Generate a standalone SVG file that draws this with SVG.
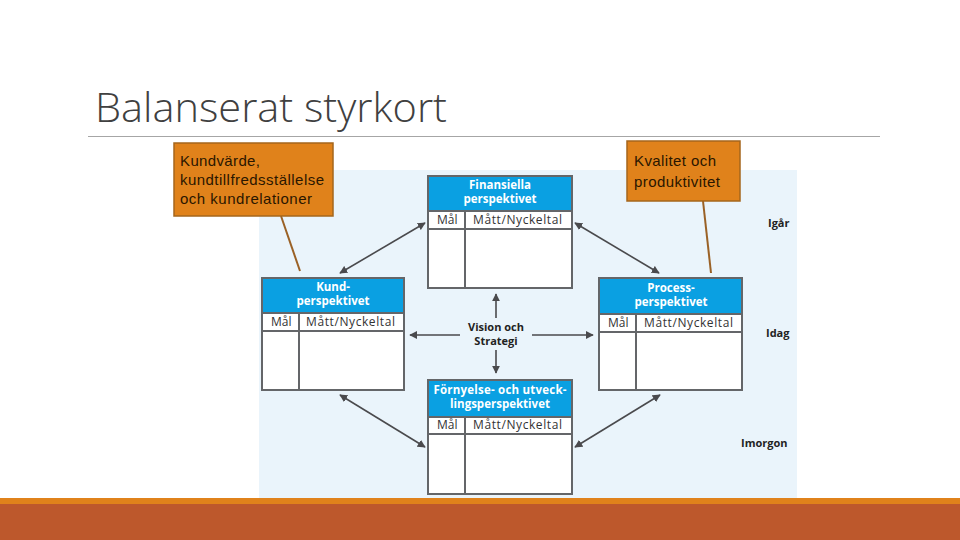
<svg xmlns="http://www.w3.org/2000/svg" width="960" height="540" viewBox="0 0 960 540">
<style>
.hdr{fill:#0aa0e2}
.box{fill:#fff;stroke:#646669;stroke-width:2}
.ln{stroke:#646669;stroke-width:2;fill:none}
.ht{font-family:"Open Sans","Liberation Sans",sans-serif;font-weight:bold;font-size:11.5px;fill:#fff;text-anchor:middle}
.rt{font-family:"Open Sans","Liberation Sans",sans-serif;font-size:12px;fill:#333}
.lb{font-family:"Open Sans","Liberation Sans",sans-serif;font-weight:bold;font-size:11px;fill:#222}
.arr{stroke:#4a4a4d;stroke-width:1.6;fill:none;marker-end:url(#ah)}
.darr{stroke:#4a4a4d;stroke-width:1.6;fill:none;marker-end:url(#ah);marker-start:url(#ahs)}
.call{fill:#e0821b;stroke:#a5661c;stroke-width:1.5}
.ct{font-family:"Liberation Sans",Arial,sans-serif;font-size:15px;fill:#2a1600}
.cl{stroke:#9a6126;stroke-width:2}
</style>
<defs>
<marker id="ah" viewBox="0 0 10 10" refX="9" refY="5" markerWidth="8" markerHeight="8" markerUnits="userSpaceOnUse" orient="auto"><path d="M0,0 L10,5 L0,10 z" fill="#4a4a4d"/></marker>
<marker id="ahs" viewBox="0 0 10 10" refX="1" refY="5" markerWidth="8" markerHeight="8" markerUnits="userSpaceOnUse" orient="auto"><path d="M10,0 L0,5 L10,10 z" fill="#4a4a4d"/></marker>
</defs>
<rect width="960" height="540" fill="#fff"/>
<g id="title">
<text x="95" y="122" font-family="'Open Sans','Liberation Sans',sans-serif" font-weight="300" font-size="40" fill="#404040" textLength="352" lengthAdjust="spacingAndGlyphs">Balanserat styrkort</text>
<line x1="88" y1="136.5" x2="880" y2="136.5" stroke="#a6a6a6" stroke-width="1"/>
</g>
<rect id="bg" x="259" y="170" width="538" height="328" fill="#eaf4fb"/>
<g id="connectors">
<line class="arr" x1="496" y1="318" x2="496" y2="294"/>
<line class="arr" x1="496" y1="350" x2="496" y2="373"/>
<line class="arr" x1="460" y1="335" x2="410" y2="335"/>
<line class="arr" x1="532" y1="335" x2="593" y2="335"/>
<line class="darr" x1="340" y1="273" x2="425" y2="223"/>
<line class="darr" x1="575" y1="223" x2="659" y2="273"/>
<line class="darr" x1="340" y1="395" x2="425" y2="447"/>
<line class="darr" x1="575" y1="447" x2="660" y2="395"/>
</g>
<g id="finansiella">
<rect class="box" x="428" y="176" width="144" height="112"/>
<rect class="hdr" x="429" y="177" width="142" height="34"/>
<line class="ln" x1="428" y1="211" x2="572" y2="211"/>
<line class="ln" x1="428" y1="229" x2="572" y2="229"/>
<line class="ln" x1="465" y1="211" x2="465" y2="288"/>
<text class="ht" x="500" y="189">Finansiella</text>
<text class="ht" x="500" y="203">perspektivet</text>
<text class="rt" x="437" y="224">Mål</text>
<text class="rt" x="473" y="224" textLength="89">Mått/Nyckeltal</text>
</g>
<g id="kund">
<rect class="box" x="262" y="278" width="142" height="112"/>
<rect class="hdr" x="263" y="279" width="140" height="34"/>
<line class="ln" x1="262" y1="313" x2="404" y2="313"/>
<line class="ln" x1="262" y1="331" x2="404" y2="331"/>
<line class="ln" x1="299" y1="313" x2="299" y2="390"/>
<text class="ht" x="333" y="291">Kund-</text>
<text class="ht" x="333" y="305">perspektivet</text>
<text class="rt" x="271" y="326">Mål</text>
<text class="rt" x="306" y="326" textLength="89">Mått/Nyckeltal</text>
</g>
<g id="process">
<rect class="box" x="599" y="278" width="143" height="112"/>
<rect class="hdr" x="600" y="279" width="141" height="35"/>
<line class="ln" x1="599" y1="314" x2="742" y2="314"/>
<line class="ln" x1="599" y1="332" x2="742" y2="332"/>
<line class="ln" x1="636" y1="314" x2="636" y2="390"/>
<text class="ht" x="671" y="292">Process-</text>
<text class="ht" x="671" y="306">perspektivet</text>
<text class="rt" x="608" y="327">Mål</text>
<text class="rt" x="644" y="327" textLength="89">Mått/Nyckeltal</text>
</g>
<g id="fornyelse">
<rect class="box" x="428" y="380" width="144" height="114"/>
<rect class="hdr" x="429" y="381" width="142" height="36"/>
<line class="ln" x1="428" y1="417" x2="572" y2="417"/>
<line class="ln" x1="428" y1="434" x2="572" y2="434"/>
<line class="ln" x1="465" y1="417" x2="465" y2="494"/>
<text class="ht" x="500" y="394" textLength="133">Förnyelse- och utveck-</text>
<text class="ht" x="500" y="408">lingsperspektivet</text>
<text class="rt" x="437" y="429">Mål</text>
<text class="rt" x="473" y="429" textLength="89">Mått/Nyckeltal</text>
</g>
<g id="vision">
<text class="lb" x="496" y="331" text-anchor="middle">Vision och</text>
<text class="lb" x="496" y="345" text-anchor="middle">Strategi</text>
</g>
<g id="times">
<text class="lb" x="768" y="227">Igår</text>
<text class="lb" x="766" y="337">Idag</text>
<text class="lb" x="741" y="447">Imorgon</text>
</g>
<g id="callout1">
<line class="cl" x1="281" y1="216" x2="300" y2="271"/>
<rect class="call" x="174" y="143" width="159" height="73"/>
<text class="ct" x="180" y="166" textLength="80">Kundvärde,</text>
<text class="ct" x="180" y="185" textLength="144">kundtillfredsställelse</text>
<text class="ct" x="180" y="204" textLength="132">och kundrelationer</text>
</g>
<g id="callout2">
<line class="cl" x1="703" y1="201" x2="711" y2="273"/>
<rect class="call" x="627" y="141" width="113" height="60"/>
<text class="ct" x="634" y="166" textLength="82">Kvalitet och</text>
<text class="ct" x="634" y="187" textLength="86">produktivitet</text>
</g>
<g id="footer">
<rect x="0" y="498" width="960" height="6" fill="#e0821b"/>
<rect x="0" y="504" width="960" height="36" fill="#bd582c"/>
</g>
</svg>
